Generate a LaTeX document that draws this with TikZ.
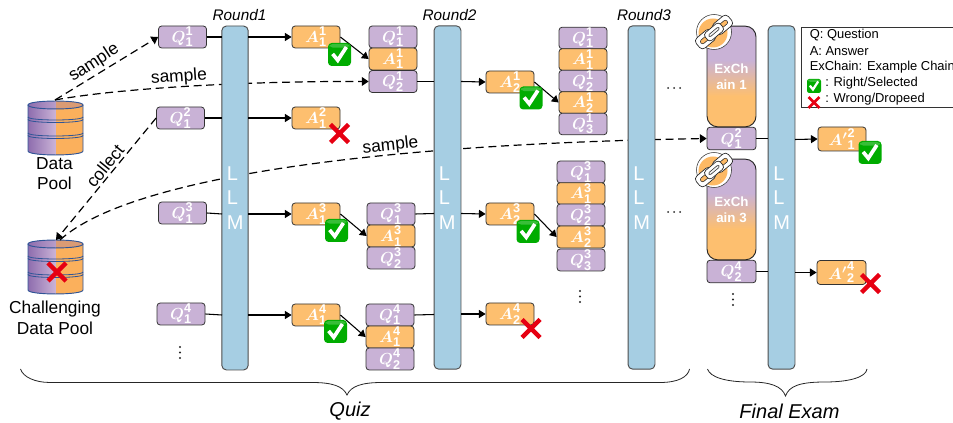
\documentclass[tikz,border=0pt]{standalone}
\usepackage{amsmath}
\usepackage{fontspec}
\setmainfont{Liberation Sans}
\usetikzlibrary{arrows.meta}
\DeclareMathSizes{13}{13}{9.5}{7}
\definecolor{qpurple}{HTML}{C9B2D6}
\definecolor{aorange}{HTML}{FDBF6F}
\definecolor{llmblue}{HTML}{A6CEE3}
\definecolor{dbline}{HTML}{2F5597}
\definecolor{dbpurple}{HTML}{8E6DAE}
\definecolor{dborange}{HTML}{FBB05C}
\definecolor{checkgreen}{HTML}{00AC00}
\definecolor{crossred}{HTML}{E60012}
\newcommand{\qatext}[3]{\ensuremath{\boldsymbol{#1}_{\mathbf{#3}}^{\mathbf{#2}}}}
\tikzset{
  x=0.75pt,y=-0.75pt,
  qabase/.style={draw=black!80,line width=0.6pt,rounded corners=2.4pt,inner sep=0pt,text=white,font=\fontsize{13}{13}\selectfont,minimum width=36pt,minimum height=16.5pt},
  qbox/.style={qabase,fill=qpurple},
  abox/.style={qabase,fill=aorange},
  llmbar/.style={draw=black!70,line width=0.7pt,fill=llmblue,rounded corners=3.5pt,inner sep=0pt},
  llmtext/.style={text=white,font=\fontsize{15}{18.4}\selectfont,align=left,inner sep=0pt,anchor=north west},
  flow/.style={line width=0.8pt,-{Triangle[length=5pt,width=6pt]}},
  plainflow/.style={line width=0.8pt},
  dflow/.style={line width=0.9pt,dash pattern=on 6pt off 3.5pt},
  dtip/.style={-{Triangle[length=5pt,width=6.5pt]}},
  lbl/.style={font=\fontsize{13}{15.4}\selectfont,inner sep=0pt},
  roundlbl/.style={font=\fontsize{11.5}{11.5}\selectfont\itshape,inner sep=0pt},
  leg/.style={font=\fontsize{9.7}{9.7}\selectfont,anchor=west,inner sep=0pt},
  brace/.style={line width=0.6pt,black!85},
  chainoutline/.style={draw=black!85,line width=.7pt,rounded corners=8pt,minimum width=36.75pt,minimum height=75.5pt,inner sep=0pt},
  chaintext/.style={text=white,font=\fontsize{10}{12}\selectfont\bfseries,align=center,inner sep=0pt},
  bigital/.style={font=\fontsize{15}{15}\selectfont\itshape,inner sep=0pt},
}
% \chk{x}{y}{size}
\newcommand{\chk}[3]{\begin{scope}[shift={(#1,#2)},x=#3*0.0375pt,y=-#3*0.0375pt]
  \fill[checkgreen,rounded corners=#3*0.12pt] (-10,-10) rectangle (10,10);
  \fill[white,opacity=.22,rounded corners=#3*0.1pt] (-8.5,-9.2) rectangle (8.5,-6);
  \draw[white,line width=#3*0.12pt,line join=miter] (-6,-0.5) -- (-1.5,5) -- (6,-6.5);
\end{scope}}
% \crs{x}{y}{size}
\newcommand{\crs}[3]{\begin{scope}[shift={(#1,#2)},x=#3*0.0375pt,y=-#3*0.0375pt]
  \draw[crossred,line width=#3*0.17pt] (-9,-9) -- (9,9) (-9,9) -- (9,-9);
\end{scope}}
% \dbase{x0}{y0}
\newcommand{\dbase}[2]{\begin{scope}[shift={(#1,#2)}]
  \begin{scope}
  \clip (0,4) .. controls (0,-1.3) and (55,-1.3) .. (55,4) -- (55,50) .. controls (55,55.3) and (0,55.3) .. (0,50) -- cycle;
  \foreach \i in {0,...,54}{
    \ifnum\i<28
      \pgfmathsetmacro\mixv{100*\i/27}
      \fill[qpurple!\mixv!dbpurple] (\i,-2) rectangle (\i+1.5,57);
    \else
      \fill[dborange] (\i,-2) rectangle (\i+1.5,57);
    \fi}
  \end{scope}
  \draw[dbline,line width=.7pt] (0,4) -- (0,50) .. controls (0,55.3) and (55,55.3) .. (55,50) -- (55,4);
  \draw[dbline,line width=.7pt,fill=dbpurple,fill opacity=.3] (0,4) .. controls (0,-1.3) and (55,-1.3) .. (55,4) .. controls (55,9.3) and (0,9.3) .. (0,4) -- cycle;
  \foreach \yy in {16,18.5,32,34.5}{
    \draw[dbline,line width=.6pt] (0,\yy) .. controls (0,\yy+4) and (55,\yy+4) .. (55,\yy);}
\end{scope}}
% \chainicon{x}{y}
\newcommand{\chainicon}[2]{\begin{scope}[shift={(#1,#2)}]
  \draw[black!80,fill=white,line width=.4pt] (0,0) circle[radius=17.5];
  \fill[aorange!90!orange] (-1,1) circle[radius=14.5];
  \begin{scope}[rotate=40]
   \draw[black!85,fill=white,line width=.5pt,rounded corners=3pt] (-21,-6.5) rectangle (-1,6.5);
   \fill[aorange!90!orange,rounded corners=1.5pt] (-17,-2.2) rectangle (-5,2.2);
   \draw[black!85,line width=.4pt,rounded corners=1.5pt] (-17,-2.2) rectangle (-5,2.2);
   \draw[black!85,fill=white,line width=.5pt,rounded corners=3pt] (1,-6.5) rectangle (21,6.5);
   \fill[aorange!90!orange,rounded corners=1.5pt] (5,-2.2) rectangle (17,2.2);
   \draw[black!85,line width=.4pt,rounded corners=1.5pt] (5,-2.2) rectangle (17,2.2);
   \draw[black!85,fill=white,line width=.5pt,rounded corners=2.5pt] (-10,-5) rectangle (10,5);
   \draw[black!85,line width=.4pt,rounded corners=1pt,fill=black!5] (-6.5,-1.3) rectangle (6.5,1.3);
  \end{scope}
\end{scope}}
% \chainfill{x0}{y0}: gradient body of an example chain
\newcommand{\chainfill}[2]{\begin{scope}
  \clip[rounded corners=8pt] (#1,#2) rectangle (#1+49,#2+101);
  \fill[qpurple] (#1,#2) rectangle (#1+49,#2+35);
  \foreach \i in {0,...,36}{
    \pgfmathsetmacro\mixv{100*\i/36}
    \fill[aorange!\mixv!qpurple] (#1,#2+34+\i) rectangle (#1+49,#2+35.5+\i);}
  \fill[aorange] (#1,#2+71) rectangle (#1+49,#2+101);
\end{scope}}
\newcommand{\vdotsat}[2]{\fill[black!85] (#1,#2-5.5) circle[radius=1.1] (#1,#2) circle[radius=1.1] (#1,#2+5.5) circle[radius=1.1];}
\newcommand{\hdotsat}[2]{\fill[black!85] (#1-6,#2) circle[radius=1] (#1,#2) circle[radius=1] (#1+6,#2) circle[radius=1];}
\begin{document}
\begin{tikzpicture}
\useasboundingbox (0,0) rectangle (953,423);

\coordinate (sA) at (55,100);
\coordinate (sC) at (60,240);
\coordinate (sCb) at (56,240);
\node[qbox] (q11) at (182.5,37) {\qatext{Q}{1}{1}};
\node[qbox] (q21) at (180.5,118) {\qatext{Q}{2}{1}};
\node[qbox] (q31) at (182.5,213) {\qatext{Q}{3}{1}};
\node[qbox] (q41) at (181,314) {\qatext{Q}{4}{1}};

\node[abox] (a11) at (316,37) {\qatext{A}{1}{1}};
\node[abox] (a21) at (316,118) {\qatext{A}{2}{1}};
\node[abox] (a31) at (316,214) {\qatext{A}{3}{1}};
\node[abox] (a41) at (316,315) {\qatext{A}{4}{1}};

% stacks round 2
\node[qbox] (s1a) at (393,37) {\qatext{Q}{1}{1}};
\node[abox] (s1b) at (393,59) {\qatext{A}{1}{1}};
\node[qbox] (s1c) at (393,81.5) {\qatext{Q}{1}{2}};
\node[qbox] (s3a) at (391,214) {\qatext{Q}{3}{1}};
\node[abox] (s3b) at (391,236) {\qatext{A}{3}{1}};
\node[qbox] (s3c) at (391,258) {\qatext{Q}{3}{2}};
\node[qbox] (s4a) at (390,315) {\qatext{Q}{4}{1}};
\node[abox] (s4b) at (390,337) {\qatext{A}{4}{1}};
\node[qbox] (s4c) at (390,359) {\qatext{Q}{4}{2}};

\node[abox] (a12) at (510,82) {\qatext{A}{1}{2}};
\node[abox] (a32) at (510,214) {\qatext{A}{3}{2}};
\node[abox] (a42) at (510,314) {\qatext{A}{4}{2}};

% stacks round 3
\node[qbox,minimum height=16.2pt] (t1a) at (583,38) {\qatext{Q}{1}{1}};
\node[abox,minimum height=16.2pt] (t1b) at (583,59.5) {\qatext{A}{1}{1}};
\node[qbox,minimum height=16.2pt] (t1c) at (583,81) {\qatext{Q}{1}{2}};
\node[abox,minimum height=16.2pt] (t1d) at (583,102.5) {\qatext{A}{1}{2}};
\node[qbox,minimum height=16.2pt] (t1e) at (583,124) {\qatext{Q}{1}{3}};
\node[qbox] (t3a) at (581,172) {\qatext{Q}{3}{1}};
\node[abox,minimum height=16.2pt] (t3b) at (581,193.5) {\qatext{A}{3}{1}};
\node[qbox] (t3c) at (581,215) {\qatext{Q}{3}{2}};
\node[abox] (t3d) at (581,237) {\qatext{A}{3}{2}};
\node[qbox] (t3e) at (581,260) {\qatext{Q}{3}{3}};

% final exam boxes
\node[qbox,minimum width=36.75pt,minimum height=17pt] (fq1) at (731.5,138.5) {\qatext{Q}{2}{1}};
\node[qbox,minimum width=36.75pt,minimum height=17pt] (fq2) at (731.5,271.5) {\qatext{Q}{4}{2}};
\node[abox,minimum height=18pt] (fa1) at (842,139) {\ensuremath{\boldsymbol{A'}^{\mathbf 2}_{\mathbf 1}}};
\node[abox,minimum width=36.75pt,minimum height=18pt] (fa2) at (841.5,272.5) {\ensuremath{\boldsymbol{A'}^{\mathbf 4}_{\mathbf 2}}};

% databases
\dbase{28}{101}
\dbase{28}{240}
\crs{57}{272}{20}
\node[lbl,align=center] (dp) at (54.5,173.5) {Data\\Pool};
\node[lbl,align=center] (cdp) at (55,318) {Challenging\\Data Pool};

% dashed connectors
\draw[dflow,dtip] (sA) -- (q11.west);
\draw[dflow,dtip] (sA) .. controls (120,88) and (250,81) .. (s1c.west);
\draw[dflow,dtip] (q21.west) -- (sCb);
\draw[dflow,dtip] (sC) .. controls (120,185) and (330,145) .. (fq1.west);
\node[lbl,rotate=33] (l1) at (94,63) {sample};
\node[lbl,rotate=4] (l2) at (179,77) {sample};
\node[lbl,rotate=51] (l3) at (105,166) {collect};
\node[lbl,rotate=6] (l4) at (390.5,146) {sample};

% LLM bars
\node[llmbar,minimum width=19.8pt,minimum height=258pt] (llm1) at (235,198) {};
\node[llmbar,minimum width=20.2pt,minimum height=257.5pt] (llm2) at (447.5,197.5) {};
\node[llmbar,minimum width=20.2pt,minimum height=257.5pt] (llm3) at (641.5,197.5) {};
\node[llmbar,minimum width=20.2pt,minimum height=257.5pt] (llm4) at (781.5,197.5) {};
\node[llmtext] (t1) at (226.5,166) {L\\L\\M};
\node[llmtext] (t2) at (438.5,166) {L\\L\\M};
\node[llmtext] (t3) at (633,166) {L\\L\\M};
\node[llmtext] (t4) at (773,166) {L\\L\\M};

\node[roundlbl] (r1) at (239.5,15) {Round1};
\node[roundlbl] (r2) at (449.5,15) {Round2};
\node[roundlbl] (r3) at (644,15) {Round3};

% Q to LLM, LLM to A
\foreach \q/\y in {q11/37,q21/118,q31/214,q41/315}{\draw[plainflow] (\q.east) -- (222,\y);}
\draw[flow] (248,37) -- (a11.west);
\draw[flow] (248,118) -- (a21.west);
\draw[flow] (248,214) -- (a31.west);
\draw[flow] (248,315) -- (a41.west);
\foreach \q/\y in {s1c/81.5,s3a/213.5,s4a/314.5}{\draw[plainflow] (\q.east) -- (434,\y);}
\draw[flow] (461,81.5) -- (a12.west);
\draw[flow] (461,213.5) -- (a32.west);
\draw[flow] (461,314) -- (a42.west);
\draw[plainflow] (fq1.east) -- (768,138.5);
\draw[plainflow] (fq2.east) -- (768,271.5);
\draw[flow] (795,139.5) -- (fa1.west);
\draw[flow] (795,272.5) -- (fa2.west);

% answers to stacks
\draw[flow] (a11.east) -- (s1b.west);
\draw[flow] (a12.east) -- (t1d.west);
\draw[flow] (a31.east) -- (s3b.west);
\draw[flow] (a32.east) -- (t3d.west);
\draw[flow] (a41.east) -- (s4b.west);

% exam chains
\chainfill{707}{26}
\chainfill{707}{159}
\node[chainoutline] (ch1) at (731.5,76.5) {};
\node[chainoutline] (ch3) at (731.5,209.5) {};
\node[chaintext] (ct1) at (731.5,76.5) {ExCh\\ain 1};
\node[chaintext] (ct3) at (731.5,209.5) {ExCh\\ain 3};
\chainicon{714}{32}
\chainicon{714}{170}

% marks
\chk{339.5}{54.5}{23}
\crs{339.5}{133.5}{20}
\chk{336.5}{230.5}{23}
\chk{335.5}{331.5}{23}
\chk{531}{98}{23}
\chk{528}{231.5}{23}
\crs{531}{328.5}{20}
\chk{870}{152.5}{23}
\crs{870.5}{283.5}{20}

% dots
\vdotsat{180}{352.5}
\vdotsat{580}{296.5}
\vdotsat{733}{299.5}
\hdotsat{674}{88}
\hdotsat{674}{212}

% legend
\draw[black!80,line width=.7pt] (953,27.5) -- (801.5,27.5) -- (801.5,107.5) -- (953,107.5);
\node[leg] (g1) at (809.5,35.5) {Q: Question};
\node[leg] (g2) at (809.5,51.5) {A: Answer};
\node[leg] (g3) at (809.5,67.5) {ExChain: Example Chain};
\node[leg] (g4) at (825,83.5) {: Right/Selected};
\node[leg] (g5) at (825,99.5) {: Wrong/Dropeed};
\chk{814}{86}{14}
\crs{814}{102.5}{12}

% braces
\draw[brace] (20.5,369) .. controls (23,377) and (35,382.5) .. (50,382.5) -- (312,382.5)
   .. controls (332,382.5) and (343,386) .. (347,395)
   .. controls (351,386) and (362,382.5) .. (382,382.5) -- (660,382.5)
   .. controls (678,382.5) and (688,377) .. (689.5,369);
\node[bigital] (quiz) at (350,411.5) {Quiz};
\draw[brace] (707.5,369) .. controls (710,377) and (725,382) .. (750,382)
   .. controls (770,382) and (782,386) .. (785.5,396)
   .. controls (789,386) and (800,382) .. (825,382)
   .. controls (850,382) and (866,377) .. (867,369);
\node[bigital] (fe) at (789.5,411) {Final Exam};
\end{tikzpicture}
\end{document}
